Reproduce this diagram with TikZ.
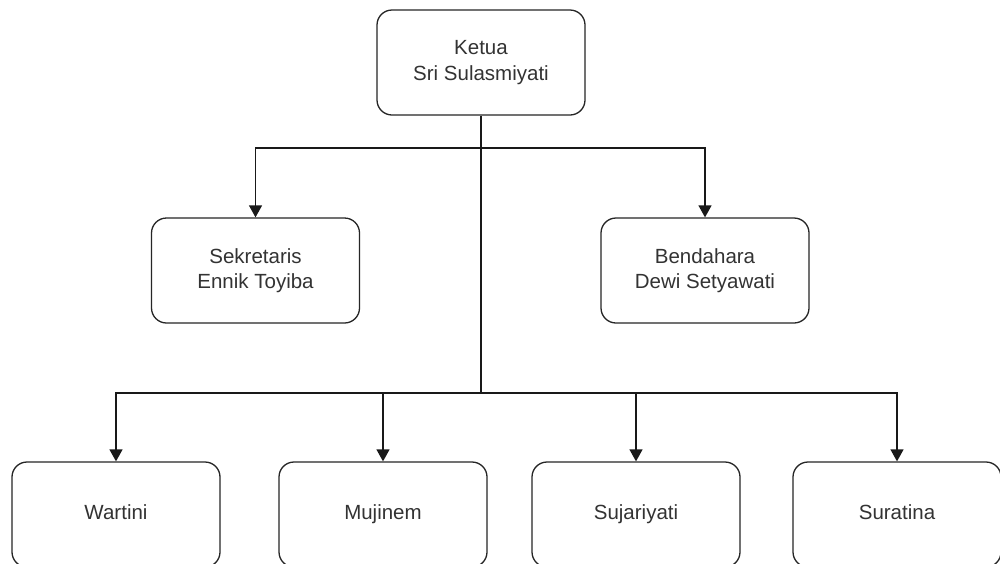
\documentclass[tikz,border=0pt]{standalone}
\usepackage{fontspec}
\setmainfont{Liberation Sans}
\usetikzlibrary{arrows.meta}
\definecolor{txt}{HTML}{333333}
\tikzset{
  box/.style={draw=black!85, line width=1.3pt, rounded corners=15pt, minimum width=208pt, minimum height=105pt, align=center, text=txt, font=\fontsize{20.5}{25.5}\selectfont, inner sep=0pt},
  one/.style={text height=1em, text depth=0pt},
  conn/.style={draw=black!90, line width=1.3pt},
  arr/.style={conn, -{Triangle[length=12pt,width=13pt]}}
}
\begin{document}
\begin{tikzpicture}[x=1pt,y=-1pt]
\clip (0,0) rectangle (1000,563);
\useasboundingbox (0,0) rectangle (1000,563);
\fill[white] (0,0) rectangle (1000,563);
\node[box] (ketua) at (481,62.5) {Ketua\\Sri Sulasmiyati};
\node[box] (sek) at (255.5,270.5) {Sekretaris\\Ennik Toyiba};
\node[box] (ben) at (705,270.5) {Bendahara\\Dewi Setyawati};
\node[box,one] (war) at (116,514.5) {Wartini};
\node[box,one] (muj) at (383,514.5) {Mujinem};
\node[box,one] (suj) at (636,514.5) {Sujariyati};
\node[box,one] (sur) at (897,514.5) {Suratina};
\coordinate (j1) at (481,148);
\coordinate (j2) at (481,393);
\draw[conn] (ketua.south) -- (j2);
\draw[arr] (j1) -| (sek.north);
\draw[arr] (j1) -| (ben.north);
\draw[arr] (j2) -| (war.north);
\draw[arr] (j2) -| (muj.north);
\draw[arr] (j2) -| (suj.north);
\draw[arr] (j2) -| (sur.north);
\end{tikzpicture}
\end{document}
